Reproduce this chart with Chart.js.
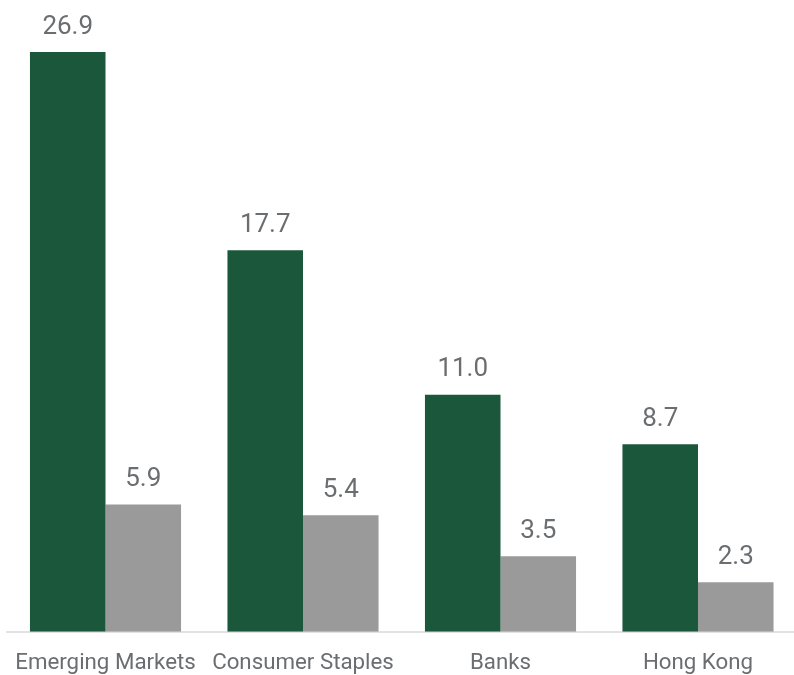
<!DOCTYPE html>
<html>
<head>
<meta charset="utf-8">
<script src="https://cdn.jsdelivr.net/npm/chart.js@4"></script>
<style>
html,body{margin:0;padding:0;background:#fff;overflow:hidden;}
#wrap{position:absolute;left:0;top:0;width:800px;height:675px;}
</style>
</head>
<body>
<div id="wrap"><canvas id="c"></canvas></div>
<script>
const categories = ["Emerging Markets", "Consumer Staples", "Banks", "Hong Kong"];
const seriesGreen = [26.9, 17.7, 11.0, 8.7];
const seriesGray = [5.9, 5.4, 3.5, 2.3];

const textColor = '#6b6e71';

const valueLabels = {
  id: 'valueLabels',
  afterDatasetsDraw(chart) {
    const ctx = chart.ctx;
    ctx.save();
    ctx.font = '26px Roboto';
    ctx.fillStyle = textColor;
    ctx.textAlign = 'center';
    ctx.textBaseline = 'alphabetic';
    chart.data.datasets.forEach((ds, di) => {
      const meta = chart.getDatasetMeta(di);
      meta.data.forEach((bar, i) => {
        ctx.fillText(ds.data[i].toFixed(1), bar.x, bar.y - 18.5);
      });
    });
    ctx.restore();
  }
};

new Chart(document.getElementById('c'), {
  type: 'bar',
  data: {
    labels: categories,
    datasets: [
      { data: seriesGreen, backgroundColor: '#1b583b', categoryPercentage: 0.765, barPercentage: 1.0 },
      { data: seriesGray, backgroundColor: '#9a9a9b', categoryPercentage: 0.765, barPercentage: 1.0 }
    ]
  },
  options: {
    responsive: true,
    maintainAspectRatio: false,
    animation: false,
    layout: { padding: { left: 6.75, right: 3.25, top: 28.3, bottom: -20.5 } },
    plugins: { legend: { display: false }, tooltip: { enabled: false } },
    scales: {
      x: {
        grid: { display: false, drawTicks: false },
        border: { display: true, color: '#e2e2e2', width: 2 },
        ticks: { color: textColor, font: { family: 'Roboto', size: 22.3 }, padding: 18.5, maxRotation: 0, autoSkip: false },
        afterFit(scale) { scale.paddingLeft = 0; scale.paddingRight = 0; }
      },
      y: { display: false, min: 0, max: 28 }
    }
  },
  plugins: [valueLabels]
});
</script>
</body>
</html>
